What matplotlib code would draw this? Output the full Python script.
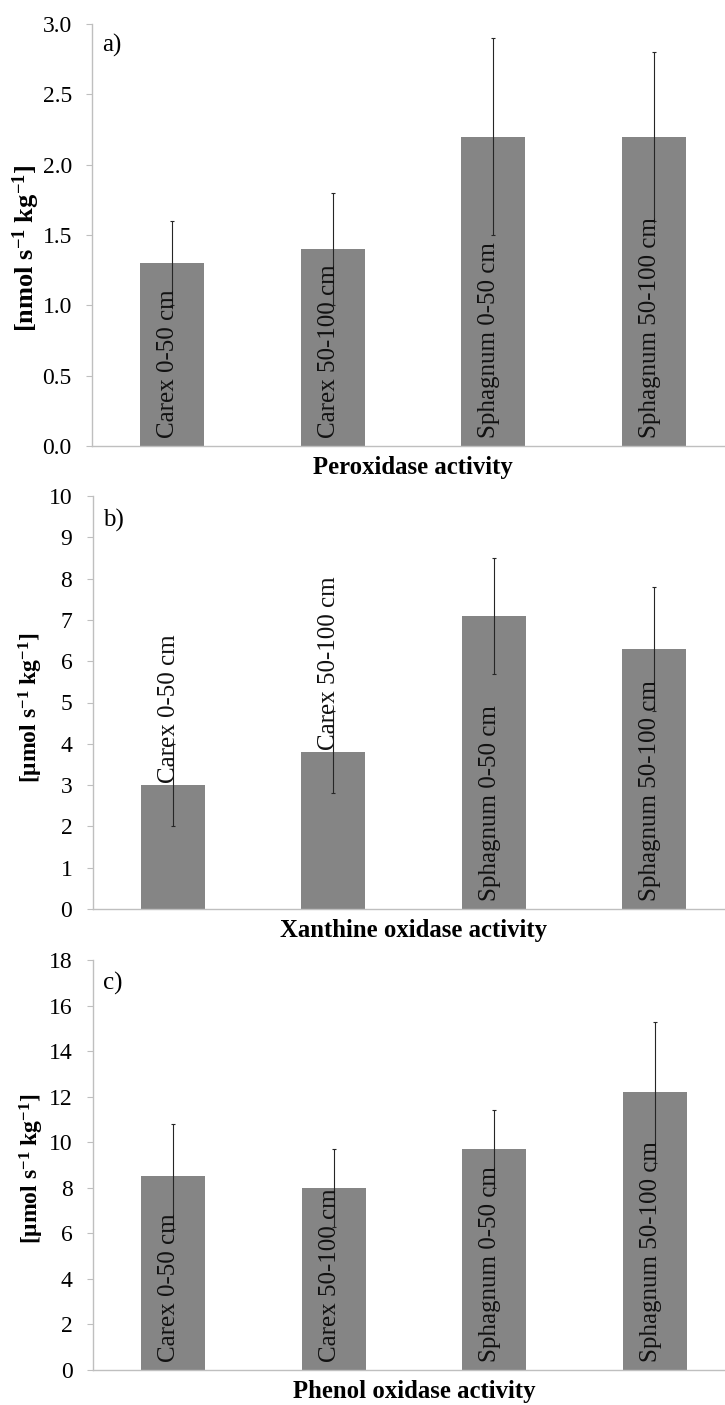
import matplotlib
matplotlib.use("Agg")
import matplotlib.pyplot as plt
import matplotlib.transforms as mtransforms
import numpy as np

plt.rcParams['font.family'] = ['Liberation Serif', 'DejaVu Serif']
plt.rcParams['mathtext.fontset'] = 'custom'
plt.rcParams['mathtext.rm'] = 'Liberation Serif'
plt.rcParams['mathtext.it'] = 'Liberation Serif:italic'
plt.rcParams['mathtext.bf'] = 'Liberation Serif:bold'
plt.rcParams['mathtext.default'] = 'bf'

categories = ["Carex 0-50 cm", "Carex 50-100 cm", "Sphagnum 0-50 cm", "Sphagnum 50-100 cm"]

perox_vals = [1.3, 1.4, 2.2, 2.2]
perox_err = [0.3, 0.4, 0.7, 0.6]

xanth_vals = [3.0, 3.8, 7.1, 6.3]
xanth_err = [1.0, 1.0, 1.4, 1.5]

phenol_vals = [8.5, 8.0, 9.7, 12.2]
phenol_err = [2.3, 1.7, 1.7, 3.1]

W, H = 725, 1405

panels = [
    dict(vals=perox_vals, err=perox_err, ylim=(0, 3.0), yticks=np.arange(0, 3.01, 0.5), fmt="{:.1f}",
         ylabel=r"[nmol s$^{-1}$ kg$^{-1}$]", ylabel_size=19, ylabel_xy=(-0.0775, 0.469),
         xlabel="Peroxidase activity", tag="a)", tag_y=0.950,
         label_on_top=[False, False, False, False],
         px=(92, 24, 446)),
    dict(vals=xanth_vals, err=xanth_err, ylim=(0, 10), yticks=np.arange(0, 11, 1), fmt="{:.0f}",
         ylabel=r"[μmol s$^{-1}$ kg$^{-1}$]", ylabel_size=17, ylabel_xy=(-0.0735, 0.487),
         xlabel="Xanthine oxidase activity", tag="b)", tag_y=0.940,
         label_on_top=[True, True, False, False],
         px=(92.5, 496, 909)),
    dict(vals=phenol_vals, err=phenol_err, ylim=(0, 18), yticks=np.arange(0, 19, 2), fmt="{:.0f}",
         ylabel=r"[μmol s$^{-1}$ kg$^{-1}$]", ylabel_size=17, ylabel_xy=(-0.0735, 0.490),
         xlabel="Phenol oxidase activity", tag="c)", tag_y=0.943,
         label_on_top=[False, False, False, False],
         px=(93, 960, 1370)),
]

fig = plt.figure(figsize=(W / 100, H / 100), dpi=100)
bar_color = "#858585"
spine_color = "#bfbfbf"
axes_width_px = 642

for p in panels:
    left, top, bottom = p["px"]
    ax = fig.add_axes([left / W, 1 - bottom / H, axes_width_px / W, (bottom - top) / H])
    x = np.arange(len(categories))
    ax.bar(x, p["vals"], width=0.4, color=bar_color, zorder=2)
    ax.errorbar(x, p["vals"], yerr=p["err"], fmt="none", ecolor="#262626",
                elinewidth=0.8, capsize=1.5, capthick=0.8, zorder=3)
    ax.set_xlim(-0.5, len(categories) - 0.5)
    ax.set_ylim(*p["ylim"])
    ax.set_yticks(p["yticks"])
    ax.set_yticklabels([p["fmt"].format(v) for v in p["yticks"]], fontsize=17)
    ax.set_xticks([])
    for s in ["top", "right"]:
        ax.spines[s].set_visible(False)
    for s in ["left", "bottom"]:
        ax.spines[s].set_color(spine_color)
        ax.spines[s].set_linewidth(1.0)
    ax.tick_params(axis="y", direction="out", length=4.5, color=spine_color, pad=10)
    ax.set_ylabel(p["ylabel"], fontsize=p["ylabel_size"], fontweight="bold")
    ax.yaxis.set_label_coords(*p["ylabel_xy"])
    ax.set_xlabel(p["xlabel"], fontsize=17.8, fontweight="bold", labelpad=7)
    ax.text(0.016, p["tag_y"], p["tag"], transform=ax.transAxes, fontsize=18, ha="left", va="center")
    ymax = p["ylim"][1]
    off = mtransforms.ScaledTranslation(-3 / 72, 0, fig.dpi_scale_trans)
    for i, (cat, v) in enumerate(zip(categories, p["vals"])):
        if p["label_on_top"][i]:
            y = v + 0.005 * ymax
        else:
            y = 0.02 * ymax
        ax.text(i, y, cat, rotation=90, ha="center", va="bottom", fontsize=18,
                color="#111111", transform=ax.transData + off, zorder=4)

fig.savefig("out.png", dpi=100)
